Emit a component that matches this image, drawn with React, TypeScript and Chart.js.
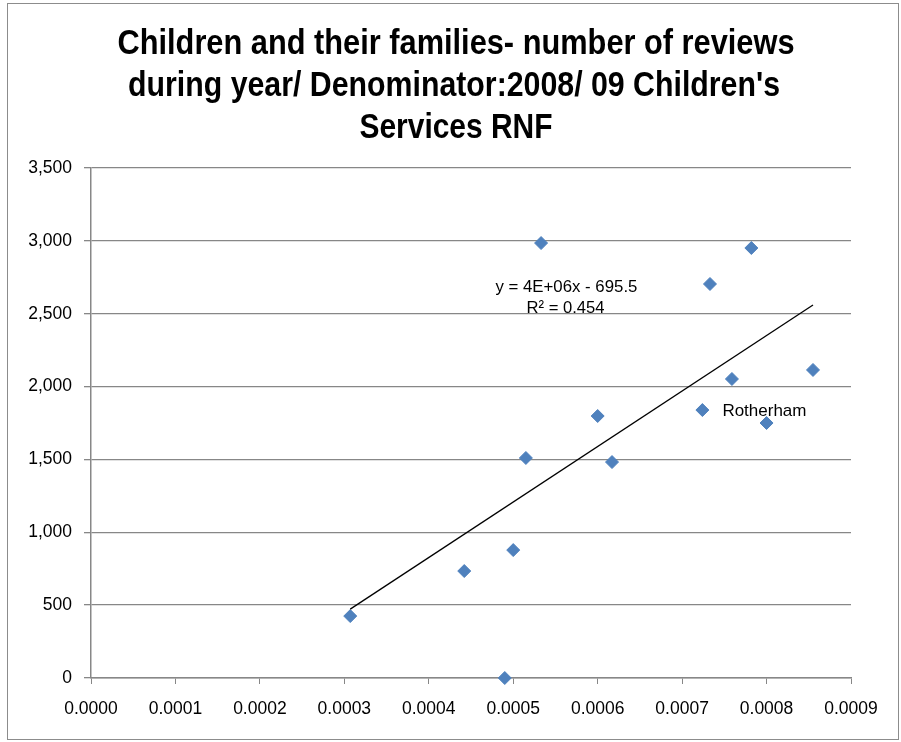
import React, { useEffect, useRef } from "react";
import { Chart, registerables } from "chart.js";

Chart.register(...registerables);

// Ratio of reviews to the 2008/09 Children's Services RNF denominator, per authority
const xValues = [0.000307, 0.000442, 0.00049, 0.0005, 0.000515, 0.000533, 0.0006, 0.000617, 0.000724, 0.000733, 0.000759, 0.000782, 0.0008, 0.000855];
// Number of reviews during the year
const yValues = [425, 734, 0, 878, 1510, 2985, 1798, 1482, 1839, 2704, 2052, 2951, 1750, 2114];
// Point labels (only one authority is named)
const pointNames = ["", "", "", "", "", "", "", "", "Rotherham", "", "", "", "", ""];

const titleLines = [
  "Children and their families- number of reviews",
  "during year/ Denominator:2008/ 09 Children's",
  "Services RNF",
];
const trendEquation = "y = 4E+06x - 695.5";
const trendR2 = "R\u00B2 = 0.454";

const xAxisMin = 0;
const xAxisMax = 0.0009;
const xAxisStep = 0.0001;
const yAxisMin = 0;
const yAxisMax = 3500;
const yAxisStep = 500;

const GRID = "#878787";
const MARKER = "#4F81BD";

function linearFit(xs: number[], ys: number[]) {
  const n = xs.length;
  const mx = xs.reduce((a, b) => a + b, 0) / n;
  const my = ys.reduce((a, b) => a + b, 0) / n;
  let sxy = 0;
  let sxx = 0;
  for (let i = 0; i < n; i++) {
    sxy += (xs[i] - mx) * (ys[i] - my);
    sxx += (xs[i] - mx) * (xs[i] - mx);
  }
  const slope = sxy / sxx;
  return { slope, intercept: my - slope * mx };
}

// Draws text centred on cx, squeezed horizontally to at most maxWidth
function drawFitted(ctx: CanvasRenderingContext2D, text: string, cx: number, y: number, maxWidth: number, align: CanvasTextAlign = "center") {
  const w = ctx.measureText(text).width;
  const sx = w > maxWidth ? maxWidth / w : 1;
  ctx.save();
  ctx.translate(cx, y);
  ctx.scale(sx, 1);
  ctx.textAlign = align;
  ctx.fillText(text, 0, 0);
  ctx.restore();
}

const decorations = {
  id: "decorations",
  afterDatasetsDraw(chart: any) {
    const ctx: CanvasRenderingContext2D = chart.ctx;
    const xs = chart.scales.x;
    const ys = chart.scales.y;
    ctx.save();
    ctx.fillStyle = "#000";
    ctx.textBaseline = "alphabetic";

    // trendline label
    ctx.font = '17px "Liberation Sans Narrow", "Liberation Sans", Arial, sans-serif';
    drawFitted(ctx, trendEquation, xs.getPixelForValue(0.000563), ys.getPixelForValue(2650), 142);
    drawFitted(ctx, trendR2, xs.getPixelForValue(0.000562), ys.getPixelForValue(2505), 78);

    // point labels
    ctx.font = '17px "Liberation Sans", Arial, sans-serif';
    ctx.textBaseline = "middle";
    pointNames.forEach((name, i) => {
      if (!name) return;
      const px = xs.getPixelForValue(xValues[i]);
      const py = ys.getPixelForValue(yValues[i]);
      drawFitted(ctx, name, px + 20, py + 1, 86, "left");
    });
    ctx.restore();
  },
  afterDraw(chart: any) {
    const ctx: CanvasRenderingContext2D = chart.ctx;
    ctx.save();
    // outer frame
    ctx.strokeStyle = "#8c8c8c";
    ctx.lineWidth = 1;
    ctx.strokeRect(7.5, 3.5, 891, 736);
    // title
    ctx.fillStyle = "#000";
    ctx.textBaseline = "alphabetic";
    ctx.font = 'bold 35px "Liberation Sans Narrow", "Liberation Sans", Arial, sans-serif';
    const widths = [677, 652, 193];
    const centers = [456, 454, 456];
    titleLines.forEach((line, i) => {
      drawFitted(ctx, line, centers[i], 54 + i * 42, widths[i]);
    });
    ctx.restore();
  },
};

export default function App() {
  const canvasRef = useRef<HTMLCanvasElement | null>(null);

  useEffect(() => {
    document.body.style.margin = "0";
    const canvas = canvasRef.current;
    if (!canvas) return;

    const fit = linearFit(xValues, yValues);
    const xMin = Math.min(...xValues);
    const xMax = Math.max(...xValues);
    const points = xValues.map((x, i) => ({ x, y: yValues[i] }));

    const chart = new Chart(canvas, {
      type: "scatter",
      data: {
        datasets: [
          {
            label: "Reviews",
            data: points,
            pointStyle: "rectRot",
            pointRadius: 6.5,
            pointHoverRadius: 6.5,
            backgroundColor: MARKER,
            borderColor: MARKER,
            borderWidth: 1,
            clip: false,
            order: 2,
          },
          {
            label: "Linear trend",
            type: "line",
            data: [
              { x: xMin, y: fit.intercept + fit.slope * xMin },
              { x: xMax, y: fit.intercept + fit.slope * xMax },
            ],
            borderColor: "#000",
            borderWidth: 1.3,
            pointRadius: 0,
            fill: false,
            clip: false,
            order: 1,
          } as any,
        ],
      },
      options: {
        responsive: false,
        animation: false,
        devicePixelRatio: 1,
        layout: { padding: { left: 20, right: 50, top: 168, bottom: 10 } },
        plugins: {
          legend: { display: false },
          title: { display: false },
          tooltip: { enabled: false },
        },
        scales: {
          x: {
            type: "linear",
            min: xAxisMin,
            max: xAxisMax,
            afterFit(scale: any) {
              scale.height = 54;
            },
            afterBuildTicks(scale: any) {
              const ticks = [];
              for (let v = xAxisMin; v <= xAxisMax + 1e-12; v += xAxisStep) ticks.push({ value: v });
              scale.ticks = ticks;
            },
            ticks: {
              color: "#000",
              font: { family: '"Liberation Sans", Arial, sans-serif', size: 17.5 },
              padding: 15,
              maxRotation: 0,
              autoSkip: false,
              callback: (v: any) => Number(v).toFixed(4),
            },
            grid: { drawOnChartArea: false, drawTicks: true, tickLength: 6, color: GRID, lineWidth: 1 },
            border: { display: true, color: GRID, width: 1.5 },
          },
          y: {
            type: "linear",
            min: yAxisMin,
            max: yAxisMax,
            afterFit(scale: any) {
              scale.width = 71;
            },
            ticks: {
              stepSize: yAxisStep,
              color: "#000",
              font: { family: '"Liberation Sans", Arial, sans-serif', size: 17.5 },
              padding: 12,
              callback: (v: any) => Number(v).toLocaleString("en-US"),
            },
            grid: { drawOnChartArea: true, drawTicks: true, tickLength: 7, color: GRID, lineWidth: 1.3 },
            border: { display: true, color: GRID, width: 1.5 },
          },
        },
      },
      plugins: [decorations],
    });

    return () => chart.destroy();
  }, []);

  return (
    <div style={{ position: "absolute", left: 0, top: 0, width: 901, height: 742, background: "#fff" }}>
      <canvas ref={canvasRef} width={901} height={742} style={{ display: "block" }} />
    </div>
  );
}
